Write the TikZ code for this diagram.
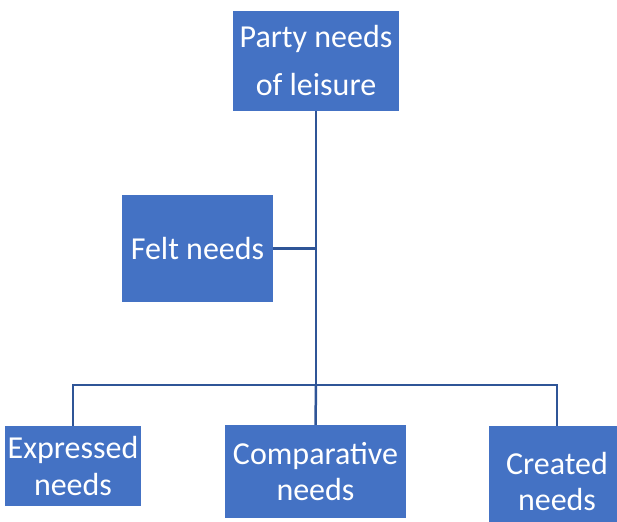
\documentclass[tikz,border=0pt]{standalone}
\usepackage{fontspec}
\setmainfont{Carlito}
\definecolor{boxblue}{HTML}{4472C4}
\definecolor{linkblue}{HTML}{2F5597}
\tikzset{
  pbox/.style={fill=boxblue, draw=none, text=white, align=center, inner sep=0pt,
    font=\fontsize{32}{36}\selectfont},
  link/.style={draw=linkblue, line width=2.5pt}
}
\begin{document}
\begin{tikzpicture}[x=1pt,y=-1pt]
\useasboundingbox (0,0) rectangle (617,521);
\node[pbox, minimum width=166pt, minimum height=100pt, font=\fontsize{32}{48}\selectfont] (top) at (316,61) {Party needs\\of leisure};
\node[pbox, minimum width=151pt, minimum height=107pt] (felt) at (197.5,248.5) {Felt needs};
\node[pbox, minimum width=136pt, minimum height=80pt, font=\fontsize{32}{37}\selectfont] (expr) at (73,466) {Expressed\\needs};
\node[pbox, minimum width=181pt, minimum height=93pt] (comp) at (315.5,471.5) {Comparative\\needs};
\node[pbox, minimum width=136pt, minimum height=112pt] (crea) at (557,482) {Created\\needs};
\coordinate (j) at (316,385);
\draw[link] (top.south) -- (j);
\draw[link] (felt.east) -- (felt.east -| j);
\draw[link] (j) -- (comp.north);
\draw[link] (j) -| (expr.north);
\draw[link] (j) -| (crea.north);
\end{tikzpicture}
\end{document}
